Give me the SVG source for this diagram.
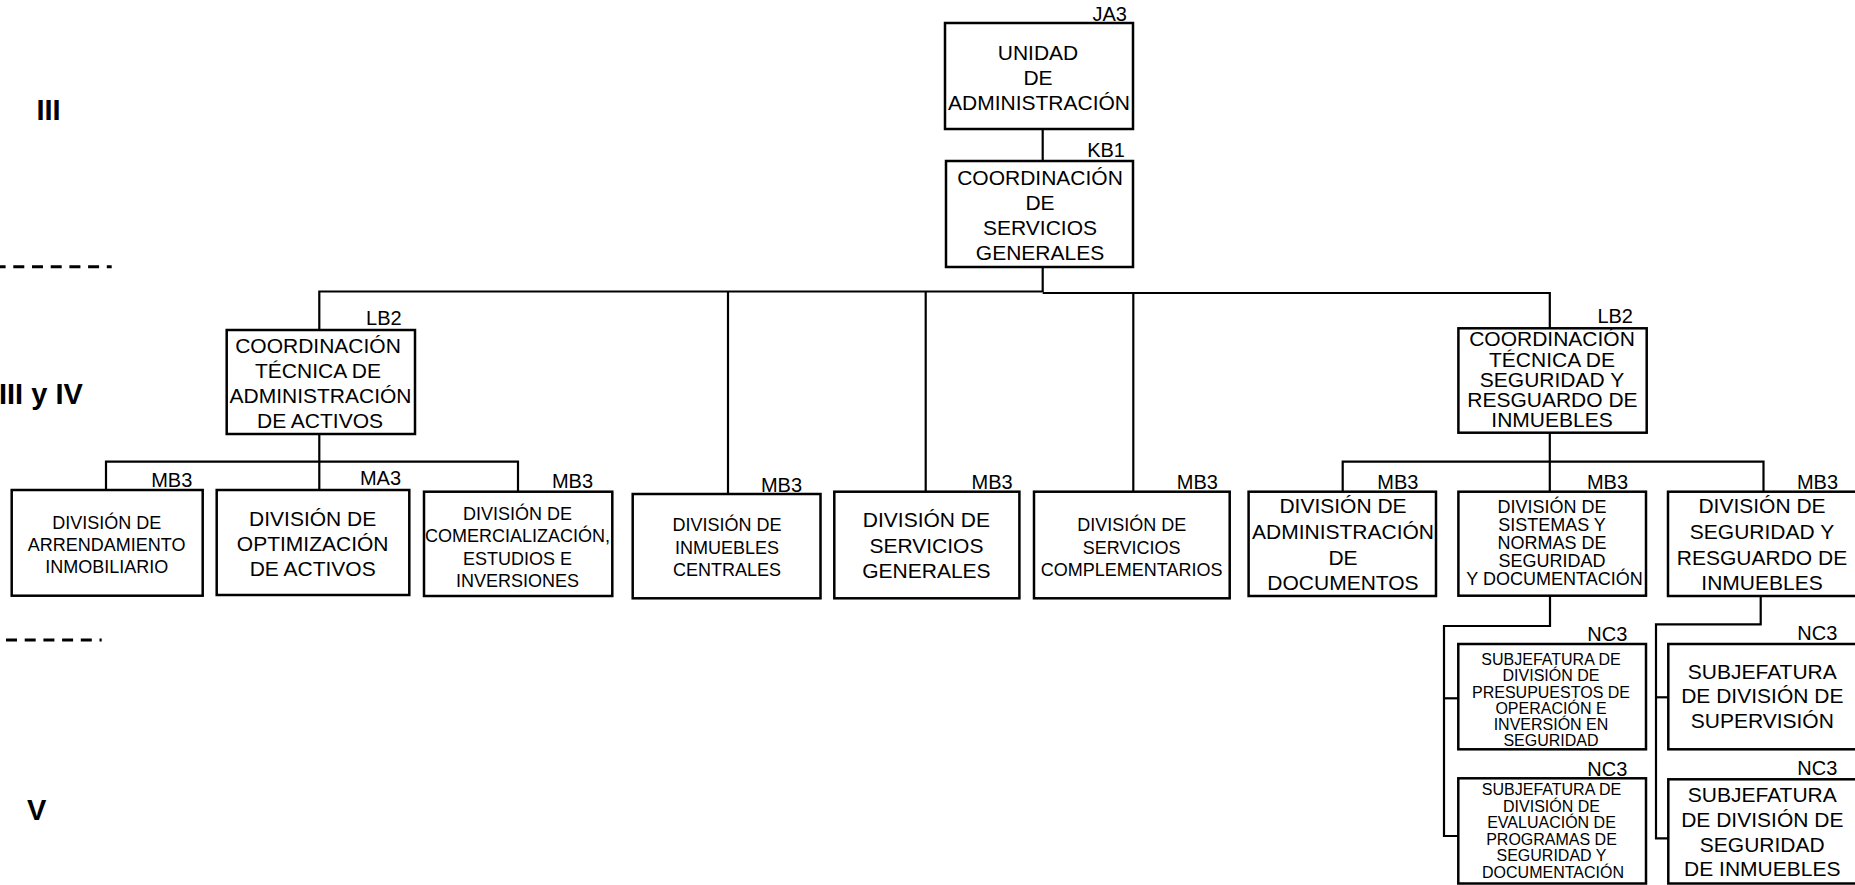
<svg xmlns="http://www.w3.org/2000/svg" width="1855" height="885" viewBox="0 0 1855 885">
<style>
.box{fill:#fff;stroke:#000;stroke-width:2.5}
.ln{fill:none;stroke:#000;stroke-width:2.2}
.dash{fill:none;stroke:#000;stroke-width:3;stroke-dasharray:11 7.7}
text{font-family:"Liberation Sans",Arial,sans-serif;fill:#000}
.t{text-anchor:middle;font-size:21px}
.s{text-anchor:middle;font-size:18px}
.xs{text-anchor:middle;font-size:16px}
.lab{text-anchor:end;font-size:20px}
.lvl{font-size:29px;font-weight:bold}
</style>
<rect width="1855" height="885" fill="#fff"/>
<g id="levels">
<text class="lvl" x="36.5" y="120">III</text>
<text class="lvl" x="-1" y="404">III y IV</text>
<text class="lvl" x="27" y="820">V</text>
<line class="dash" x1="-5.4" y1="266.7" x2="111.7" y2="266.7"/>
<line class="dash" x1="6" y1="640" x2="101.7" y2="640"/>
</g>
<g id="connectors">
<line class="ln" x1="1042.7" y1="129" x2="1042.7" y2="161"/>
<line class="ln" x1="1042.7" y1="267" x2="1042.7" y2="292"/>
<polyline class="ln" points="319.3,330 319.3,291.5 1042.7,291.5"/>
<polyline class="ln" points="1042.7,293 1549.8,293 1549.8,328.3"/>
<line class="ln" x1="728" y1="291.5" x2="728" y2="494"/>
<line class="ln" x1="925.7" y1="291.5" x2="925.7" y2="491.7"/>
<line class="ln" x1="1133.3" y1="293" x2="1133.3" y2="491.7"/>
<line class="ln" x1="319.3" y1="434" x2="319.3" y2="490"/>
<polyline class="ln" points="106,490 106,461.7 518,461.7 518,491.7"/>
<line class="ln" x1="1549.8" y1="432.7" x2="1549.8" y2="491.7"/>
<polyline class="ln" points="1342.7,491.7 1342.7,461.7 1763.5,461.7 1763.5,491.7"/>
<polyline class="ln" points="1550,595.7 1550,626 1444,626 1444,836 1463,836"/>
<line class="ln" x1="1444" y1="698.3" x2="1463" y2="698.3"/>
<polyline class="ln" points="1760.7,596 1760.7,624.3 1656,624.3 1656,838.3 1668,838.3"/>
<line class="ln" x1="1656" y1="697.3" x2="1668" y2="697.3"/>
</g>
<g id="unidad">
<rect class="box" x="945" y="23" width="188" height="106"/>
<text class="lab" x="1127" y="21">JA3</text>
<text class="t" x="1038" y="60">UNIDAD</text>
<text class="t" x="1038" y="85">DE</text>
<text class="t" x="1039" y="110">ADMINISTRACIÓN</text>
</g>
<g id="coord-servicios">
<rect class="box" x="946" y="161" width="187" height="106"/>
<text class="lab" x="1125" y="157">KB1</text>
<text class="t" x="1040" y="185">COORDINACIÓN</text>
<text class="t" x="1040" y="210">DE</text>
<text class="t" x="1040" y="235">SERVICIOS</text>
<text class="t" x="1040" y="260">GENERALES</text>
</g>
<g id="coord-activos">
<rect class="box" x="226.7" y="330" width="188.3" height="104"/>
<text class="lab" x="401.7" y="325">LB2</text>
<text class="t" x="318" y="352.7">COORDINACIÓN</text>
<text class="t" x="318" y="377.7">TÉCNICA DE</text>
<text class="t" x="320.5" y="403.3">ADMINISTRACIÓN</text>
<text class="t" x="320" y="428">DE ACTIVOS</text>
</g>
<g id="coord-seguridad">
<rect class="box" x="1458.4" y="328.3" width="188.3" height="104.4"/>
<text class="lab" x="1633" y="322.7">LB2</text>
<text class="t" x="1552" y="346">COORDINACIÓN</text>
<text class="t" x="1552" y="366.5">TÉCNICA DE</text>
<text class="t" x="1552" y="386.5">SEGURIDAD Y</text>
<text class="t" x="1552.4" y="406.5">RESGUARDO DE</text>
<text class="t" x="1552" y="426.5">INMUEBLES</text>
</g>
<g id="div-arrendamiento">
<rect class="box" x="11.7" y="490" width="191" height="105.7"/>
<text class="lab" x="192.3" y="486.7">MB3</text>
<text class="s" x="106.7" y="529">DIVISIÓN DE</text>
<text class="s" x="106.7" y="550.5">ARRENDAMIENTO</text>
<text class="s" x="106.7" y="572.7">INMOBILIARIO</text>
</g>
<g id="div-optimizacion">
<rect class="box" x="216.7" y="490" width="192.6" height="105"/>
<text class="lab" x="401" y="485">MA3</text>
<text class="t" x="312.7" y="526">DIVISIÓN DE</text>
<text class="t" x="312.7" y="550.7">OPTIMIZACIÓN</text>
<text class="t" x="312.7" y="576">DE ACTIVOS</text>
</g>
<g id="div-comercializacion">
<rect class="box" x="424" y="491.7" width="188.3" height="104.3"/>
<text class="lab" x="593" y="488">MB3</text>
<text class="s" x="517.5" y="520">DIVISIÓN DE</text>
<text class="s" x="517.5" y="542">COMERCIALIZACIÓN,</text>
<text class="s" x="517.5" y="564.5">ESTUDIOS E</text>
<text class="s" x="517.5" y="586.5">INVERSIONES</text>
</g>
<g id="div-inmuebles-centrales">
<rect class="box" x="632.7" y="494" width="187.8" height="104.3"/>
<text class="lab" x="802" y="491.7">MB3</text>
<text class="s" x="727" y="531">DIVISIÓN DE</text>
<text class="s" x="727" y="553.5">INMUEBLES</text>
<text class="s" x="727" y="576">CENTRALES</text>
</g>
<g id="div-servicios-generales">
<rect class="box" x="834.3" y="491.7" width="185.1" height="106.6"/>
<text class="lab" x="1012.6" y="489">MB3</text>
<text class="t" x="926.4" y="527.3">DIVISIÓN DE</text>
<text class="t" x="926.4" y="553.3">SERVICIOS</text>
<text class="t" x="926.4" y="578.3">GENERALES</text>
</g>
<g id="div-servicios-complementarios">
<rect class="box" x="1034" y="491.7" width="195.7" height="106.6"/>
<text class="lab" x="1217.9" y="489">MB3</text>
<text class="s" x="1131.7" y="531">DIVISIÓN DE</text>
<text class="s" x="1131.7" y="553.5">SERVICIOS</text>
<text class="s" x="1131.7" y="576">COMPLEMENTARIOS</text>
</g>
<g id="div-administracion-documentos">
<rect class="box" x="1248.6" y="491.7" width="187.4" height="104.3"/>
<text class="lab" x="1418.4" y="489.3">MB3</text>
<text class="t" x="1343" y="513.3">DIVISIÓN DE</text>
<text class="t" x="1343" y="539.3">ADMINISTRACIÓN</text>
<text class="t" x="1343" y="565">DE</text>
<text class="t" x="1343" y="590">DOCUMENTOS</text>
</g>
<g id="div-sistemas-normas">
<rect class="box" x="1458.4" y="491.7" width="187.6" height="104"/>
<text class="lab" x="1628" y="489.3">MB3</text>
<text class="s" x="1552" y="513.3">DIVISIÓN DE</text>
<text class="s" x="1552" y="530.7">SISTEMAS Y</text>
<text class="s" x="1552" y="548.5">NORMAS DE</text>
<text class="s" x="1552" y="566.7">SEGURIDAD</text>
<text class="s" x="1554.5" y="585">Y DOCUMENTACIÓN</text>
</g>
<g id="div-seguridad-resguardo">
<rect class="box" x="1668" y="491.7" width="200" height="104.3"/>
<text class="lab" x="1838" y="489.3">MB3</text>
<text class="t" x="1762" y="513.3">DIVISIÓN DE</text>
<text class="t" x="1762" y="539.3">SEGURIDAD Y</text>
<text class="t" x="1762" y="565">RESGUARDO DE</text>
<text class="t" x="1762" y="590">INMUEBLES</text>
</g>
<g id="subj-presupuestos">
<rect class="box" x="1458.3" y="644" width="187.7" height="105.3"/>
<text class="lab" x="1627.3" y="641">NC3</text>
<text class="xs" x="1551" y="665">SUBJEFATURA DE</text>
<text class="xs" x="1551" y="681">DIVISIÓN DE</text>
<text class="xs" x="1551" y="697.5">PRESUPUESTOS DE</text>
<text class="xs" x="1551" y="713.5">OPERACIÓN E</text>
<text class="xs" x="1551" y="729.5">INVERSIÓN EN</text>
<text class="xs" x="1551" y="745.5">SEGURIDAD</text>
</g>
<g id="subj-evaluacion">
<rect class="box" x="1458.3" y="778.3" width="187.7" height="105.2"/>
<text class="lab" x="1627.3" y="776">NC3</text>
<text class="xs" x="1551.5" y="795">SUBJEFATURA DE</text>
<text class="xs" x="1551.5" y="811.7">DIVISIÓN DE</text>
<text class="xs" x="1551.5" y="828.3">EVALUACIÓN DE</text>
<text class="xs" x="1551.5" y="844.5">PROGRAMAS DE</text>
<text class="xs" x="1551.5" y="861">SEGURIDAD Y</text>
<text class="xs" x="1553" y="877.7">DOCUMENTACIÓN</text>
</g>
<g id="subj-supervision">
<rect class="box" x="1668.3" y="644" width="200" height="105.3"/>
<text class="lab" x="1837.3" y="640">NC3</text>
<text class="t" x="1762.3" y="679.3">SUBJEFATURA</text>
<text class="t" x="1762.3" y="703.3">DE DIVISIÓN DE</text>
<text class="t" x="1762.3" y="728.3">SUPERVISIÓN</text>
</g>
<g id="subj-seguridad-inmuebles">
<rect class="box" x="1668.3" y="779.3" width="200" height="104.2"/>
<text class="lab" x="1837.3" y="775">NC3</text>
<text class="t" x="1762.3" y="801.7">SUBJEFATURA</text>
<text class="t" x="1762.3" y="826.7">DE DIVISIÓN DE</text>
<text class="t" x="1762.3" y="851.7">SEGURIDAD</text>
<text class="t" x="1762.3" y="876">DE INMUEBLES</text>
</g>
</svg>
